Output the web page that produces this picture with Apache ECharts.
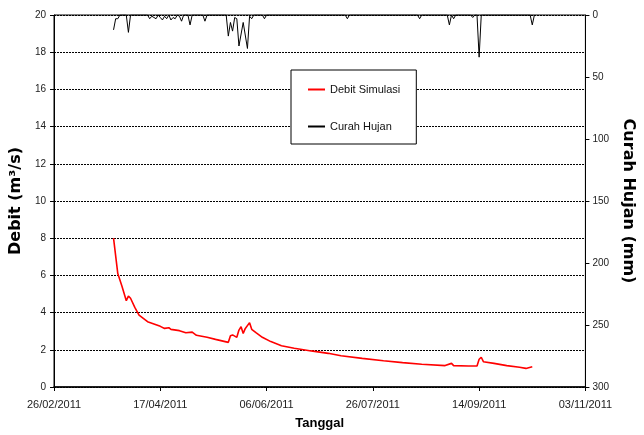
<!DOCTYPE html>
<html>
<head>
<meta charset="utf-8">
<script src="https://cdn.jsdelivr.net/npm/echarts@6/dist/echarts.min.js"></script>
<style>
html,body{margin:0;padding:0;background:#fff;}
#chart{width:644px;height:435px;}
</style>
</head>
<body>
<div id="chart"></div>
<script>
// x values are days counted from 26/02/2011
var xTickLabels = ['26/02/2011', '17/04/2011', '06/06/2011', '26/07/2011', '14/09/2011', '03/11/2011'];
var seriesNames = ['Debit Simulasi', 'Curah Hujan'];

// Debit Simulasi (m3/s)
var debitDays = [28, 30, 32, 34, 35, 36, 38, 40, 44, 47, 50, 52, 54, 55, 59, 62, 65, 67, 72, 76, 82, 83, 84, 86, 87, 88, 89, 90, 92, 93, 95, 98, 102, 107, 113, 121, 129, 135, 145, 155, 164, 173, 184, 187, 188, 195, 199, 200, 201, 202, 207, 213, 219, 222, 225];
var debitValues = [8.0, 6.1, 5.4, 4.64, 4.89, 4.77, 4.28, 3.87, 3.51, 3.39, 3.26, 3.15, 3.19, 3.1, 3.03, 2.92, 2.95, 2.78, 2.67, 2.56, 2.40, 2.76, 2.8, 2.67, 3.06, 3.24, 2.88, 3.15, 3.46, 3.1, 2.92, 2.67, 2.44, 2.22, 2.08, 1.94, 1.81, 1.68, 1.54, 1.41, 1.31, 1.22, 1.15, 1.27, 1.15, 1.13, 1.13, 1.49, 1.6, 1.36, 1.27, 1.15, 1.06, 1.0, 1.09];

// Curah Hujan (mm)
var rainDays = [28, 29, 30, 31, 34, 35, 36, 44, 45, 46, 47, 48, 49, 50, 51, 52, 53, 54, 55, 56, 57, 58, 59, 60, 61, 63, 64, 65, 70, 71, 72, 81, 82, 83, 84, 85, 86, 87, 89, 91, 92, 93, 94, 98, 99, 100, 137, 138, 139, 171, 172, 173, 185, 186, 187, 188, 189, 196, 197, 198, 199, 200, 201, 224, 225, 226];
var rainValues = [12, 3, 3, 0, 0, 14, 0, 0, 3, 1, 2, 3, 0, 2, 4, 1, 3, 0, 4, 2, 3, 0, 1, 5, 0, 0, 8, 0, 0, 5, 0, 0, 17, 6, 13, 2, 3, 25, 6, 27, 1, 3, 0, 0, 3, 0, 0, 3, 0, 0, 3, 0, 0, 8, 0, 3, 0, 0, 2, 0, 0, 34, 0, 0, 8, 0];

function pairs(xs, ys) {
  return xs.map(function (x, i) { return [x, ys[i]]; });
}

var FONT = "'Liberation Sans', Arial, sans-serif";
var TITLE_FONT = "'DejaVu Sans', 'Liberation Sans', Arial, sans-serif";
var chart = echarts.init(document.getElementById('chart'), null, { renderer: 'canvas' });
chart.setOption({
  animation: false,
  backgroundColor: '#fff',
  textStyle: { fontFamily: FONT },
  grid: { left: 54, right: 47, top: 15, bottom: 48, show: true, borderColor: '#000', borderWidth: 1, backgroundColor: 'transparent' },
  legend: {
    orient: 'vertical',
    left: 291,
    top: 70,
    padding: [13, 16, 11, 17],
    itemGap: 24,
    itemWidth: 17,
    itemHeight: 2,
    borderColor: '#000',
    borderWidth: 1,
    backgroundColor: '#fff',
    data: [
      { name: seriesNames[0], icon: 'rect' },
      { name: seriesNames[1], icon: 'rect' }
    ],
    textStyle: { fontFamily: FONT, fontSize: 11, color: '#111', lineHeight: 13 }
  },
  xAxis: {
    type: 'value',
    min: 0,
    max: 250,
    interval: 50,
    name: 'Tanggal',
    nameLocation: 'middle',
    nameGap: 30,
    nameTextStyle: { fontFamily: FONT, fontSize: 13, fontWeight: 'bold', color: '#000' },
    axisLine: { show: true, onZero: false, lineStyle: { color: '#000', width: 1.5 } },
    axisTick: { show: true, inside: false, length: 4, lineStyle: { color: '#000' } },
    axisLabel: {
      margin: 12,
      fontFamily: FONT,
      fontSize: 11,
      color: '#222',
      formatter: function (v) { return xTickLabels[Math.round(v / 50)]; }
    },
    splitLine: { show: false }
  },
  yAxis: [
    {
      type: 'value',
      min: 0,
      max: 20,
      interval: 2,
      position: 'left',
      name: 'Debit (m³/s)',
      nameLocation: 'middle',
      nameGap: 25,
      nameTextStyle: { fontFamily: TITLE_FONT, fontSize: 16, fontWeight: 'bold', color: '#000' },
      axisLine: { show: true, lineStyle: { color: '#000', width: 1 } },
      axisTick: { show: true, inside: false, length: 4, lineStyle: { color: '#000' } },
      axisLabel: { margin: 8, fontFamily: FONT, fontSize: 10, color: '#222' },
      splitLine: { show: true, lineStyle: { color: '#000', type: [2, 1], width: 1 } }
    },
    {
      type: 'value',
      min: 0,
      max: 300,
      interval: 50,
      inverse: true,
      position: 'right',
      name: 'Curah Hujan (mm)',
      nameLocation: 'middle',
      nameRotate: -90,
      nameGap: 25,
      nameTextStyle: { fontFamily: TITLE_FONT, fontSize: 16, fontWeight: 'bold', color: '#000' },
      axisLine: { show: true, lineStyle: { color: '#000', width: 1 } },
      axisTick: { show: true, inside: false, length: 4, lineStyle: { color: '#000' } },
      axisLabel: { margin: 7, fontFamily: FONT, fontSize: 10, color: '#222' },
      splitLine: { show: false }
    }
  ],
  series: [
    {
      name: seriesNames[0],
      type: 'line',
      yAxisIndex: 0,
      data: pairs(debitDays, debitValues),
      showSymbol: false,
      symbol: 'none',
      color: '#ff0000',
      lineStyle: { color: '#ff0000', width: 1.6 },
      z: 3
    },
    {
      name: seriesNames[1],
      type: 'line',
      yAxisIndex: 1,
      data: pairs(rainDays, rainValues),
      showSymbol: false,
      symbol: 'none',
      color: '#000',
      lineStyle: { color: '#000', width: 1 },
      z: 2
    }
  ]
});
</script>
</body>
</html>
